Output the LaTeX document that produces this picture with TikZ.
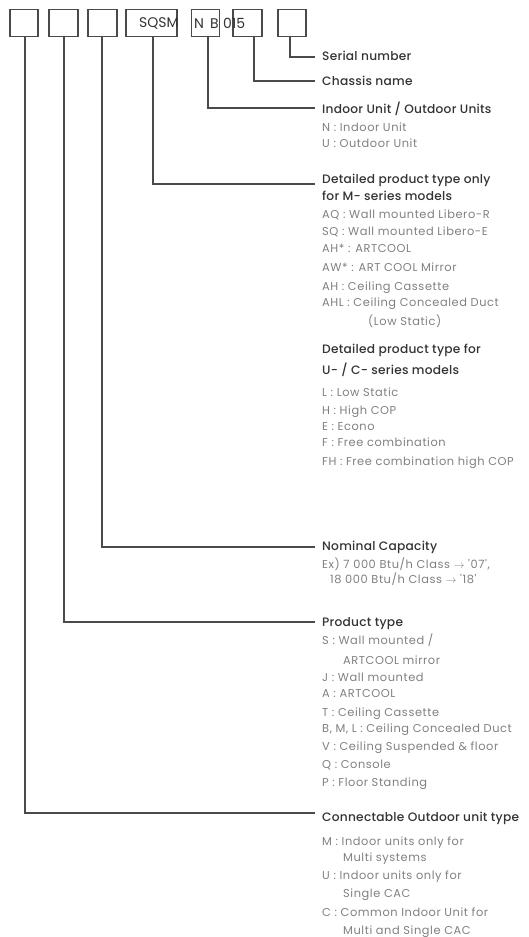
\documentclass[tikz,border=0pt]{standalone}
\usepackage{fontspec}
\setmainfont{Poppins}
\newfontfamily\hdfont{Poppins Medium}[LetterSpace=2]
\newfontfamily\bdfont{Poppins}[LetterSpace=5]
\definecolor{lnc}{HTML}{4A4A4A}
\definecolor{hdc}{HTML}{333333}
\definecolor{bdc}{HTML}{808080}
\begin{document}
\begin{tikzpicture}[x=1pt,y=-1pt,
  box/.style={draw=lnc,line width=1.3pt,inner sep=0pt},
  con/.style={draw=lnc,line width=1.2pt},
  hd/.style={anchor=west,inner sep=0pt,text=hdc,text height=8pt,text depth=2pt,font=\hdfont\fontsize{12.2}{14}\selectfont},
  bd/.style={anchor=west,inner sep=0pt,text=bdc,text height=8pt,text depth=2pt,font=\bdfont\fontsize{11.4}{13}\selectfont},
  code/.style={anchor=west,inner sep=0pt,text=hdc,font=\fontsize{14}{16}\selectfont}]
\useasboundingbox (0,0) rectangle (528,937);
% boxes
\node[box,minimum width=28pt,minimum height=27pt] (b1) at (24,23) {};
\node[box,minimum width=29pt,minimum height=27pt] (b2) at (63.5,23) {};
\node[box,minimum width=29pt,minimum height=27pt] (b3) at (102.5,23) {};
\node[box,minimum width=51pt,minimum height=27pt] (b4) at (151.5,23) {};
\node[box,minimum width=28pt,minimum height=27pt] (b5) at (205.5,23) {};
\node[box,minimum width=29pt,minimum height=27pt] (b6) at (247.5,23) {};
\node[box,minimum width=28pt,minimum height=27pt] (b7) at (292,23) {};
% code text
\node[code] (c1) at (139,23.5) {SQSM};
\node[code] (c2) at (194,23.5) {N};
\node[code] (c3) at (210,23.5) {B};
\node[code] (c4) at (223,23.5) {015};
% connector ends
\coordinate (e7) at (315,57);
\coordinate (e6) at (315,81);
\coordinate (e5) at (315,108);
\coordinate (e4) at (315,184);
\coordinate (e3) at (315,547);
\coordinate (e2) at (315,622);
\coordinate (e1) at (315,813);
\draw[con] (b7.south -| 290,0) |- (e7);
\draw[con] (b6.south -| 254,0) |- (e6);
\draw[con] (b5.south -| 208,0) |- (e5);
\draw[con] (b4.south -| 153,0) |- (e4);
\draw[con] (b3.south -| 102,0) |- (e3);
\draw[con] (b2.south -| 64,0) |- (e2);
\draw[con] (b1.south -| 25,0) |- (e1);
% texts
\node[hd] (h7) at (322,57) {Serial number};
\node[hd] (h6) at (322,82) {Chassis name};
\node[hd] (h5) at (322,110) {Indoor Unit / Outdoor Units};
\node[bd] (t51) at (322,128) {N : Indoor Unit};
\node[bd] (t52) at (322,144) {U : Outdoor Unit};
\node[hd] (h4) at (322,180) {Detailed product type only};
\node[hd] (h4b) at (322,197) {for M- series models};
\node[bd] (t41) at (322,215) {AQ : Wall mounted Libero-R};
\node[bd] (t42) at (322,232) {SQ : Wall mounted Libero-E};
\node[bd] (t43) at (322,249) {AH* : ARTCOOL};
\node[bd] (t44) at (322,268) {AW* : ART COOL Mirror};
\node[bd] (t45) at (322,287) {AH : Ceiling Cassette};
\node[bd] (t46) at (322,303) {AHL : Ceiling Concealed Duct};
\node[bd] (t47) at (368,322) {(Low Static)};
\node[hd] (h4c) at (322,350) {Detailed product type for};
\node[hd] (h4d) at (322,371) {U- / C- series models};
\node[bd] (t48) at (322,393) {L : Low Static};
\node[bd] (t49) at (322,411) {H : High COP};
\node[bd] (t410) at (322,427) {E : Econo};
\node[bd] (t411) at (322,443) {F : Free combination};
\node[bd] (t412) at (322,462) {FH : Free combination high COP};
\node[hd] (h3) at (322,547) {Nominal Capacity};
\node[bd] (t31) at (322,565) {Ex) 7 000 Btu/h Class $\rightarrow$ '07',};
\node[bd] (t32) at (330,580) {18 000 Btu/h Class $\rightarrow$ '18'};
\node[hd] (h2) at (322,623) {Product type};
\node[bd] (t21) at (322,641) {S : Wall mounted /};
\node[bd] (t22) at (343,661) {ARTCOOL mirror};
\node[bd] (t23) at (322,678) {J : Wall mounted};
\node[bd] (t24) at (322,694) {A : ARTCOOL};
\node[bd] (t25) at (322,713) {T : Ceiling Cassette};
\node[bd] (t26) at (322,729) {B, M, L : Ceiling Concealed Duct};
\node[bd] (t27) at (322,747) {V : Ceiling Suspended \& floor};
\node[bd] (t28) at (322,765) {Q : Console};
\node[bd] (t29) at (322,783) {P : Floor Standing};
\node[hd] (h1) at (322,818) {Connectable Outdoor unit type};
\node[bd] (t11) at (322,842) {M : Indoor units only for};
\node[bd] (t12) at (343,858) {Multi systems};
\node[bd] (t13) at (322,876) {U : Indoor units only for};
\node[bd] (t14) at (343,894) {Single CAC};
\node[bd] (t15) at (322,913) {C : Common Indoor Unit for};
\node[bd] (t16) at (343,931) {Multi and Single CAC};
\end{tikzpicture}
\end{document}
